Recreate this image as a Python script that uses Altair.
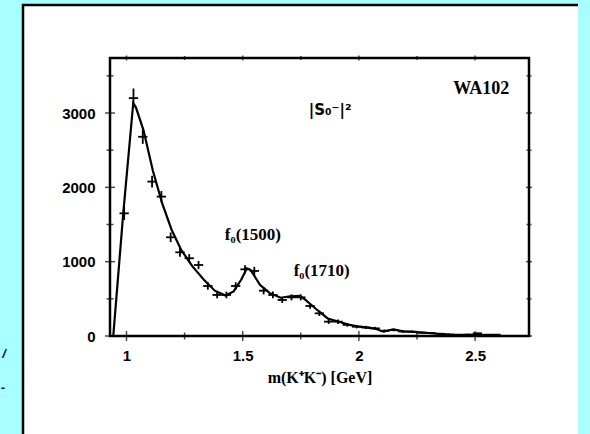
import altair as alt
import pandas as pd

# ---- data ----
pt_x = [0.99, 1.03, 1.07, 1.11, 1.15, 1.19, 1.23, 1.27, 1.31, 1.35, 1.39, 1.43, 1.47, 1.51,
        1.55, 1.59, 1.63, 1.67, 1.71, 1.75, 1.79, 1.83, 1.87, 1.91, 1.95, 1.99, 2.03, 2.07,
        2.11, 2.15, 2.19, 2.23, 2.27, 2.31, 2.35, 2.39, 2.43, 2.47, 2.51, 2.55, 2.59]
pt_y = [1650, 3200, 2680, 2077, 1875, 1328, 1126, 1046, 955, 673, 552, 552, 673, 897,
        875, 610, 552, 485, 520, 520, 404, 305, 193, 193, 150, 125, 115, 103,
        70, 81, 60, 58, 45, 40, 30, 22, 18, 20, 36, 15, 18]
pt_err = [90, 130, 95, 80, 75, 65, 60, 55, 55, 50, 45, 45, 50, 55,
          55, 50, 45, 40, 40, 40, 38, 35, 30, 30, 25, 22, 22, 20,
          18, 18, 16, 15, 14, 13, 12, 10, 10, 10, 10, 10, 10]
half_bin = 0.02

curve_x = [0.943, 0.986, 1.029, 1.04, 1.073, 1.113, 1.154, 1.194, 1.235, 1.283, 1.332, 1.38,
           1.426, 1.461, 1.494, 1.518, 1.534, 1.574, 1.615, 1.663, 1.704, 1.744, 1.769, 1.817,
           1.866, 1.914, 1.96, 2.005, 2.069, 2.105, 2.148, 2.19, 2.22, 2.3, 2.39, 2.48, 2.56, 2.6]
curve_y = [0, 1650, 3132, 3080, 2770, 2230, 1780, 1430, 1160, 940, 760, 610,
           545, 600, 760, 910, 890, 690, 580, 515, 535, 540, 490, 360,
           236, 192, 150, 125, 100, 58, 90, 62, 60, 40, 15, 12, 15, 10]

x_major = [1.0, 1.5, 2.0, 2.5]
x_minor = [1.25, 1.75, 2.25]
y_major = [0, 1000, 2000, 3000]
y_minor = [500, 1500, 2500, 3500]

ann_x = [2.527, 1.876, 1.544, 1.84]
ann_y = [3324, 3040, 1359, 868]
ann_text = ["WA102", "|S\u2080\u207b|\u00b2", "f\u2080(1500)", "f\u2080(1710)"]

# ---- geometry ----
W, H = 419, 278
PAD = {"left": 110, "top": 58, "right": 61, "bottom": 98}
X_DOM = [0.929, 2.732]
Y_DOM = [0, 3740]

xs = alt.Scale(domain=X_DOM, nice=False, zero=False)
ys = alt.Scale(domain=Y_DOM, nice=False, zero=False)

pts = pd.DataFrame({"x": pt_x, "y": pt_y, "err": pt_err})
pts["xlo"] = pts["x"] - half_bin
pts["xhi"] = pts["x"] + half_bin
pts["ylo"] = pts["y"] - pts["err"]
pts["yhi"] = pts["y"] + pts["err"]
curve = pd.DataFrame({"x": curve_x, "y": curve_y})
ann = pd.DataFrame({"x": ann_x, "y": ann_y, "t": ann_text})
one = pd.DataFrame({"a": [0]})

# white slide panel with black left/top border (no right border)
panel = alt.Chart(one).mark_rect(fill="white").encode(
    x=alt.value(-87), x2=alt.value(468), y=alt.value(-53), y2=alt.value(H + 120)
)
panel_left = alt.Chart(one).mark_rule(color="black", strokeWidth=2.5).encode(
    x=alt.value(-87), y=alt.value(-54), y2=alt.value(H + 120)
)
panel_top = alt.Chart(one).mark_rule(color="black", strokeWidth=2.5).encode(
    x=alt.value(-88), x2=alt.value(468), y=alt.value(-53)
)

# plot frame
frame = alt.Chart(one).mark_rect(fill=None, stroke="black", strokeWidth=2.5).encode(
    x=alt.value(0), x2=alt.value(W), y=alt.value(0), y2=alt.value(H)
)

# axes (labels only)
base_axes = alt.Chart(curve).mark_point(opacity=0).encode(
    x=alt.X("x:Q", scale=xs, title="m(K\u207aK\u207b) [GeV]",
            axis=alt.Axis(values=x_major, ticks=False, domain=False, grid=False,
                          labelPadding=12, titlePadding=6, labelFont="Liberation Sans",
                          labelFontWeight="bold", labelFontSize=15, labelColor="black",
                          titleFont="Liberation Serif", titleFontSize=16,
                          titleFontWeight="bold", titleColor="black", zindex=3,
                          format="~g")),
    y=alt.Y("y:Q", scale=ys, title=None,
            axis=alt.Axis(values=y_major, ticks=False, domain=False, grid=False,
                          labelPadding=15, labelFont="Liberation Sans",
                          labelFontWeight="bold", labelFontSize=15, labelColor="black",
                          zindex=3, format="d")),
)

curve_line = alt.Chart(curve).mark_line(color="black", strokeWidth=2.2).encode(
    x=alt.X("x:Q", scale=xs), y=alt.Y("y:Q", scale=ys)
)

hbar = alt.Chart(pts).mark_rule(color="black", strokeWidth=1.8).encode(
    x=alt.X("xlo:Q", scale=xs), x2="xhi:Q", y=alt.Y("y:Q", scale=ys)
)
vbar = alt.Chart(pts).mark_rule(color="black", strokeWidth=1.8).encode(
    x=alt.X("x:Q", scale=xs), y=alt.Y("ylo:Q", scale=ys), y2="yhi:Q"
)

# inward ticks
xmaj = pd.DataFrame({"v": x_major})
xmin = pd.DataFrame({"v": x_minor})
ymaj = pd.DataFrame({"v": y_major})
ymin = pd.DataFrame({"v": y_minor})

def xticks(df, size, ypos):
    return alt.Chart(df).mark_tick(color="black", thickness=1.5, size=size, orient="vertical").encode(
        x=alt.X("v:Q", scale=xs), y=alt.value(ypos)
    )

def yticks(df, size, xpos):
    return alt.Chart(df).mark_tick(color="black", thickness=1.5, size=size, orient="horizontal").encode(
        y=alt.Y("v:Q", scale=ys), x=alt.value(xpos)
    )

ticks = [
    xticks(xmaj, 10, H), xticks(xmin, 7, H),
    xticks(xmaj, 5, 0), xticks(xmin, 4, 0),
    yticks(ymaj, 10, 0), yticks(ymin, 7, 0),
    yticks(ymaj, 6, W), yticks(ymin, 5, W),
]

t_wa = alt.Chart(ann.iloc[[0]]).mark_text(font="Liberation Serif", fontWeight="bold",
                                          fontSize=18, color="black").encode(
    x=alt.X("x:Q", scale=xs), y=alt.Y("y:Q", scale=ys), text="t:N")
t_s = alt.Chart(ann.iloc[[1]]).mark_text(font="DejaVu Sans", fontWeight="bold",
                                         fontSize=15, color="black").encode(
    x=alt.X("x:Q", scale=xs), y=alt.Y("y:Q", scale=ys), text="t:N")
t_f = alt.Chart(ann.iloc[[2, 3]]).mark_text(font="Liberation Serif", fontWeight="bold",
                                            fontSize=17, color="black").encode(
    x=alt.X("x:Q", scale=xs), y=alt.Y("y:Q", scale=ys), text="t:N")

# clipped slide text remnants on the left
rem = pd.DataFrame({"t": ["/", "-"], "px": [-106, -107], "py": [296, 330]})
rem_txt = alt.Chart(rem).mark_text(font="Liberation Sans", fontWeight="bold", fontStyle="italic",
                                   fontSize=13, color="#000080").encode(
    x=alt.X("px:Q", scale=None), y=alt.Y("py:Q", scale=None), text="t:N")

chart = alt.layer(
    panel, panel_left, panel_top, base_axes, frame, curve_line, hbar, vbar, *ticks,
    t_wa, t_s, t_f, rem_txt
).properties(
    width=W, height=H, background="#A8FFFF", padding=PAD,
    autosize=alt.AutoSizeParams(type="none"),
).configure_view(stroke=None)

chart.save("out.html", embed_options={"renderer": "svg", "actions": False})
